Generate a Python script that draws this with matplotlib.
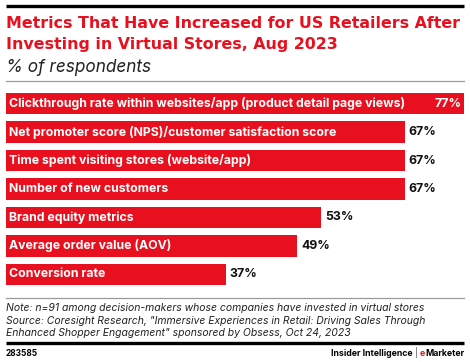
import matplotlib
matplotlib.use("Agg")
import matplotlib.pyplot as plt

# data
categories = [
    "Clickthrough rate within websites/app (product detail page views)",
    "Net promoter score (NPS)/customer satisfaction score",
    "Time spent visiting stores (website/app)",
    "Number of new customers",
    "Brand equity metrics",
    "Average order value (AOV)",
    "Conversion rate",
]
values = [77, 67, 67, 67, 53, 49, 37]

title = "Metrics That Have Increased for US Retailers After\nInvesting in Virtual Stores, Aug 2023"
subtitle = "% of respondents"
note_lines = [
    "Note: n=91 among decision-makers whose companies have invested in virtual stores",
    "Source: Coresight Research, \"Immersive Experiences in Retail: Driving Sales Through",
    "Enhanced Shopper Engagement\" sponsored by Obsess, Oct 24, 2023",
]
chart_id = "283585"

RED = "#e8101e"
W, H = 470, 362
FONT = ["Inter", "DejaVu Sans"]
TFONT = ["DejaVu Sans"]

fig = plt.figure(figsize=(W / 100, H / 100), dpi=100)

# background axes in pixel coords (y down) for rules and text
bg = fig.add_axes([0, 0, 1, 1])
bg.set_xlim(0, W)
bg.set_ylim(H, 0)
bg.axis("off")

# header
bg.plot([6, 464], [6, 6], lw=2.4, color="black", solid_capstyle="butt")
bg.text(6, 23, title.split("\n")[0], color=RED, fontsize=11.4, fontweight="bold",
        family=TFONT, va="center", ha="left")
bg.text(6, 44, title.split("\n")[1], color=RED, fontsize=11.4, fontweight="bold",
        family=TFONT, va="center", ha="left")
bg.text(6, 67, subtitle, fontsize=12.4, style="italic", family=FONT,
        va="center", ha="left", color="#222222")
bg.plot([6, 464], [80.5, 80.5], lw=0.9, color="#9a9a9a")

# bars
ax = fig.add_axes([6 / W, 1 - 285 / H, 458 / W, (285 - 93) / H])
h = 0.74
pos = list(range(len(values)))
ax.barh(pos, values, height=h, color=RED, edgecolor="none")
ax.set_xlim(0, max(values))
ax.set_ylim(len(values) - 1 + h / 2, -h / 2)
ax.axis("off")

for i, (cat, v) in enumerate(zip(categories, values)):
    ax.text(0.5, i, cat, color="white", fontweight="bold", fontsize=8.85,
            family=FONT, va="center", ha="left")
    if v == max(values):
        ax.text(v - 0.45, i, f"{v}%", color="white", fontweight="bold",
                fontsize=8.9, family=FONT, va="center", ha="right")
    else:
        ax.text(v + 0.6, i, f"{v}%", color="#111111", fontweight="bold",
                fontsize=8.9, family=FONT, va="center", ha="left")

# footer
bg.plot([6, 464], [298, 298], lw=0.9, color="#9a9a9a")
for k, line in enumerate(note_lines):
    bg.text(6, 308 + k * 12.6, line, fontsize=7.5, style="italic",
            family=FONT, va="center", ha="left", color="#222222")
bg.plot([6, 464], [343, 343], lw=2.4, color="black", solid_capstyle="butt")
bg.text(6, 353, chart_id, fontsize=6.0, fontweight="bold", family=FONT,
        va="center", ha="left")

r = fig.canvas.get_renderer()
inv = bg.transData.inverted()
t1 = bg.text(464, 353, "Marketer", fontsize=6.3, fontweight="bold",
             family=FONT, va="center", ha="right")
x0 = inv.transform((t1.get_window_extent(renderer=r).x0, 0))[0]
t2 = bg.text(x0, 353, "e", fontsize=6.3, fontweight="bold",
             family=FONT, va="center", ha="right", color=RED)
x0 = inv.transform((t2.get_window_extent(renderer=r).x0, 0))[0]
t3 = bg.text(x0 - 2, 353, "|", fontsize=6.3, family=FONT, va="center", ha="right",
             color="#444444")
x0 = inv.transform((t3.get_window_extent(renderer=r).x0, 0))[0]
bg.text(x0 - 2, 353, "Insider Intelligence", fontsize=6.3,
        fontweight="bold", family=FONT, va="center", ha="right")

fig.savefig("out.png", dpi=100)
